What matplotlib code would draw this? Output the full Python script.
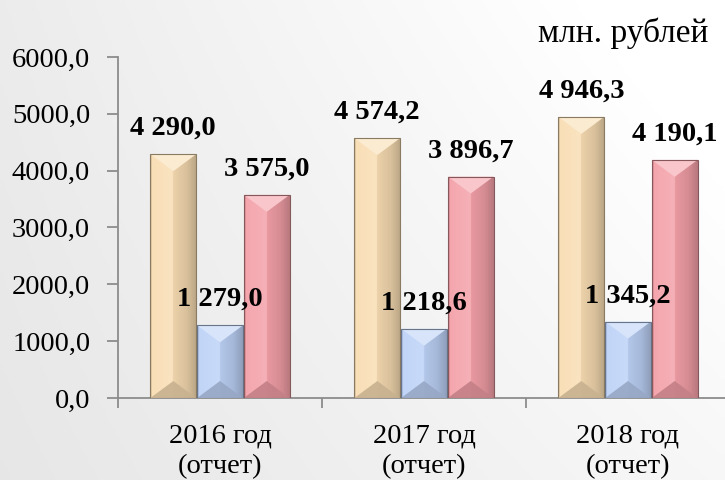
import numpy as np
import matplotlib
matplotlib.use("Agg")
import matplotlib.pyplot as plt
from matplotlib.patches import Polygon
from matplotlib.colors import to_rgb

categories = ["2016 год\n(отчет)", "2017 год\n(отчет)", "2018 год\n(отчет)"]
series_a = [4290.0, 4574.2, 4946.3]
series_b = [1279.0, 1218.6, 1345.2]
series_c = [3575.0, 3896.7, 4190.1]
labels_a = ["4 290,0", "4 574,2", "4 946,3"]
labels_b = ["1 279,0", "1 218,6", "1 345,2"]
labels_c = ["3 575,0", "3 896,7", "4 190,1"]
yticks = [0, 1000, 2000, 3000, 4000, 5000, 6000]
ytick_labels = ["0,0", "1000,0", "2000,0", "3000,0", "4000,0", "5000,0", "6000,0"]
unit_text = "млн. рублей"

colors = ["#F9DDB3", "#BDD2F7", "#F4A0A8"]

plt.rcParams['font.family'] = 'serif'
plt.rcParams['font.serif'] = ['Liberation Serif', 'DejaVu Serif']

FS = 20.5
W, H = 725, 480
fig = plt.figure(figsize=(W / 100, H / 100), dpi=100)

# background gradient
bg = fig.add_axes([0, 0, 1, 1], zorder=-10)
gx = np.linspace(0, 1, 200)
gy = np.linspace(0, 1, 200)
GX, GY = np.meshgrid(gx, gy)
val = 0.905 + 0.065 * GX + 0.03 * GY * GX + 0.02 * GY
val = np.clip(val, 0, 1)
img = np.dstack([val, val, val])
bg.imshow(img, origin='lower', extent=[0, 1, 0, 1], aspect='auto')
bg.set_axis_off()

ax_l, ax_b = 118 / W, (H - 398) / H
ax_w, ax_h = (730 - 118) / W, (398 - 57) / H
ax = fig.add_axes([ax_l, ax_b, ax_w, ax_h])
ax.patch.set_alpha(0)

x = np.arange(len(categories))
bw = 0.225
gap = 0.004
offsets = [-(bw + gap), 0, bw + gap]
all_series = [series_a, series_b, series_c]
all_labels = [labels_a, labels_b, labels_c]

ax.set_xlim(-0.5, 2.5)
ax.set_ylim(0, 6000)

ax_px_h = 398 - 57
dy = 17 / ax_px_h * 6000


def shade(c, f):
    c = np.array(to_rgb(c))
    if f >= 0:
        return c + (1 - c) * f
    return c * (1 + f)


for si, (vals, col, labs) in enumerate(zip(all_series, colors, all_labels)):
    bars = ax.bar(x + offsets[si], vals, width=bw, color=col,
                  edgecolor='none', linewidth=0, zorder=3)
    for b, v, lab in zip(bars, vals, labs):
        x0 = b.get_x()
        x1 = x0 + b.get_width()
        xc = (x0 + x1) / 2
        # horizontal gradient across the bar
        t = np.linspace(0, 1, 80)
        prof = np.where(t < 0.5, 0.05 + 0.25 * t,
                        np.where(t < 0.8, -0.05 - 0.25 * (t - 0.5), -0.125 - 0.6 * (t - 0.8)))
        prof[:3] = -0.12
        grad = np.array([shade(col, p) for p in prof])[None, :, :]
        im = ax.imshow(grad, extent=[x0, x1, 0, v], aspect='auto',
                       zorder=3.1, interpolation='bilinear')
        im.set_clip_path(b)
        # top facet (lighter)
        ax.add_patch(Polygon([[x0, v], [x1, v], [xc, v - dy]], closed=True,
                             facecolor=shade(col, 0.4), edgecolor='none',
                             alpha=1.0, zorder=3.2))
        # bottom facet (darker)
        ax.add_patch(Polygon([[x0, 0], [x1, 0], [xc, dy]], closed=True,
                             facecolor=shade(col, -0.2), edgecolor='none',
                             alpha=0.9, zorder=3.2))
        ax.add_patch(plt.Rectangle((x0, 0), x1 - x0, v, fill=False,
                                   edgecolor=shade(col, -0.45), linewidth=0.8,
                                   zorder=3.3))
        ax.annotate(lab, (xc, v), xytext=(0, 18.5), textcoords='offset points',
                    ha='center', va='center', fontsize=FS, fontweight='bold',
                    zorder=5)

ax.set_xlim(-0.5, 2.5)
ax.set_ylim(0, 6000)

for s in ['top', 'right']:
    ax.spines[s].set_visible(False)
for s in ['left', 'bottom']:
    ax.spines[s].set_color('#8C8C8C')
    ax.spines[s].set_linewidth(1.3)

ax.set_yticks(yticks)
ax.set_yticklabels(ytick_labels, fontsize=FS)
ax.tick_params(axis='y', direction='out', length=8, color='#8C8C8C',
               width=1.3, pad=12)

ax.set_xticks(x)
ax.set_xticklabels(categories, fontsize=FS, linespacing=1.3)
ax.tick_params(axis='x', which='major', length=0, pad=18)
ax.set_xticks([-0.5, 0.5, 1.5, 2.5], minor=True)
ax.tick_params(axis='x', which='minor', direction='out', length=7,
               color='#8C8C8C', width=1.3)

fig.text(708 / W, 1 - 33 / H, unit_text, ha='right', va='center', fontsize=24)

fig.savefig("out.png", dpi=100)
